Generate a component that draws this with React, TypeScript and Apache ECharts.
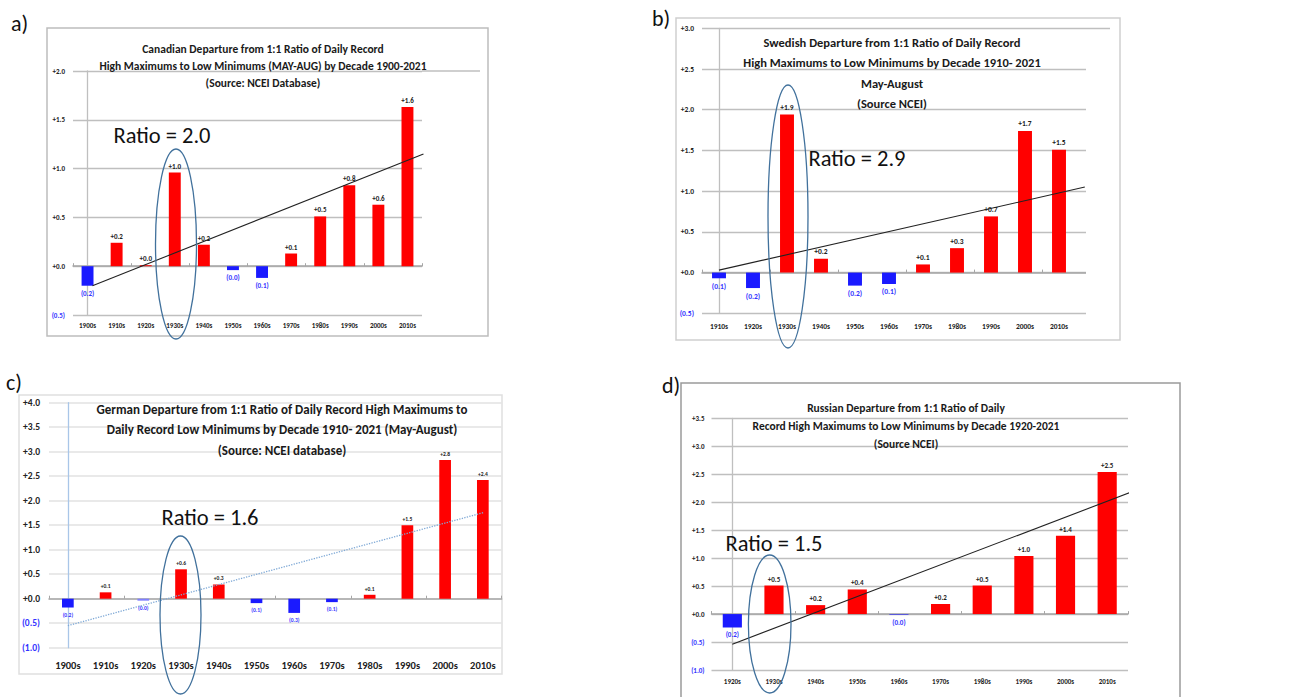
import React, { useEffect, useRef } from "react";
import * as echarts from "echarts";

const CATS_A = ["1900s", "1910s", "1920s", "1930s", "1940s", "1950s", "1960s", "1970s", "1980s", "1990s", "2000s", "2010s"];
const VALUES_A = [-0.2, 0.24, 0.01, 0.96, 0.22, -0.04, -0.12, 0.13, 0.51, 0.83, 0.63, 1.63];
const TREND_A = [[0.17, -0.2], [11.55, 1.15]];

const CATS_B = ["1910s", "1920s", "1930s", "1940s", "1950s", "1960s", "1970s", "1980s", "1990s", "2000s", "2010s", ""];
const VALUES_B = [-0.07, -0.19, 1.94, 0.17, -0.16, -0.14, 0.1, 0.3, 0.69, 1.74, 1.51, null];
const TREND_B = [[0, 0.03], [10.76, 1.05]];

const CATS_C = ["1900s", "1910s", "1920s", "1930s", "1940s", "1950s", "1960s", "1970s", "1980s", "1990s", "2000s", "2010s"];
const VALUES_C = [-0.18, 0.13, -0.04, 0.6, 0.29, -0.09, -0.29, -0.07, 0.08, 1.5, 2.83, 2.42];
const TREND_C = [[0, -0.55], [11.03, 1.76]];

const CATS_D = ["1920s", "1930s", "1940s", "1950s", "1960s", "1970s", "1980s", "1990s", "2000s", "2010s"];
const VALUES_D = [-0.24, 0.51, 0.16, 0.44, -0.01, 0.18, 0.51, 1.04, 1.4, 2.54];
const TREND_D = [[0, -0.54], [9.75, 2.23]];

const TITLE_A = "Canadian Departure from 1:1 Ratio of Daily Record\nHigh Maximums to Low Minimums (MAY-AUG) by Decade 1900-2021\n(Source: NCEI Database)";
const TITLE_B = "Swedish Departure from 1:1 Ratio of Daily Record\nHigh Maximums to Low Minimums by Decade 1910- 2021\nMay-August\n(Source NCEI)";
const TITLE_C = "German Departure from 1:1 Ratio of Daily Record High Maximums to\nDaily Record Low Minimums by Decade 1910- 2021 (May-August)\n(Source: NCEI database)";
const TITLE_D = "Russian Departure from 1:1 Ratio of Daily\nRecord High Maximums to Low Minimums by Decade 1920-2021\n(Source NCEI)";

const RATIOS = ["Ratio = 2.0", "Ratio = 2.9", "Ratio = 1.6", "Ratio = 1.5"];

const FONT = "Carlito, Lato, sans-serif";
const RED = "#ff0000";
const BLUE = "#1a1aff";
const LBLUE = "#3333ff";

const fmt = (v: number) => (v < 0 ? "(" + (-v).toFixed(1) + ")" : "+" + v.toFixed(1));

type Panel = {
  cats: string[];
  values: (number | null)[];
  trend: number[][];
  grid: { left: number; top: number; width: number; height: number };
  yMin: number;
  yMax: number;
  yFont: number;
  yMargin: number;
  xFont: number;
  xMargin: number;
  dataFont: number;
  barWidth: string;
  gridColor: string;
  gridWidth: number;
  yAxisColor: string;
  trendColor: string;
  trendType: string;
  trendWidth: number;
  negColors?: (string | null)[];
};

const PANELS: Panel[] = [
  {
    cats: CATS_A, values: VALUES_A, trend: TREND_A,
    grid: { left: 73, top: 71, width: 349, height: 244 },
    yMin: -0.5, yMax: 2.0, yFont: 7, yMargin: 8, xFont: 7, xMargin: 7, dataFont: 7, barWidth: "41%",
    gridColor: "#bfbfbf", gridWidth: 1.3, yAxisColor: "#bfbfbf", trendColor: "#222", trendType: "solid", trendWidth: 1.1,
  },
  {
    cats: CATS_B, values: VALUES_B, trend: TREND_B,
    grid: { left: 702, top: 28.3, width: 408, height: 285 },
    yMin: -0.5, yMax: 3.0, yFont: 7.5, yMargin: 8, xFont: 7.5, xMargin: 9, dataFont: 7.5, barWidth: "41%",
    gridColor: "#bfbfbf", gridWidth: 1.3, yAxisColor: "#bfbfbf", trendColor: "#222", trendType: "solid", trendWidth: 1.1,
  },
  {
    cats: CATS_C, values: VALUES_C, trend: TREND_C,
    grid: { left: 49, top: 402.7, width: 452.7, height: 245 },
    yMin: -1.0, yMax: 4.0, yFont: 9.5, yMargin: 9, xFont: 10.5, xMargin: 12, dataFont: 5.5, barWidth: "31%",
    gridColor: "#e2e2e2", gridWidth: 1.6, yAxisColor: "#a9c6e8", trendColor: "#7fa9d6", trendType: "dotted", trendWidth: 1.3,
    negColors: [null, null, "#8080ff", null, null, null, null, null, null, null, null, null],
  },
  {
    cats: CATS_D, values: VALUES_D, trend: TREND_D,
    grid: { left: 711.5, top: 418.3, width: 416.5, height: 251.7 },
    yMin: -1.0, yMax: 3.5, yFont: 7, yMargin: 7, xFont: 7, xMargin: 8, dataFont: 7, barWidth: "46%",
    gridColor: "#bfbfbf", gridWidth: 1.3, yAxisColor: "#bfbfbf", trendColor: "#222", trendType: "solid", trendWidth: 1.1,
  },
];

function buildOption() {
  const grid: any[] = [];
  const xAxis: any[] = [];
  const yAxis: any[] = [];
  const series: any[] = [];
  PANELS.forEach((p, i) => {
    grid.push({ ...p.grid, containLabel: false });
    xAxis.push({
      type: "category", gridIndex: i, data: p.cats,
      axisLine: { show: false, onZero: false },
      axisTick: { show: false },
      axisLabel: { fontSize: p.xFont, fontWeight: "bold", color: "#222", margin: p.xMargin, fontFamily: FONT, interval: 0 },
      splitLine: { show: false },
    });
    xAxis.push({
      type: "category", gridIndex: i, data: p.cats,
      axisLine: { show: true, onZero: true, lineStyle: { color: "#a6a6a6", width: 1.5 } },
      axisTick: { show: true, length: 3, lineStyle: { color: "#a6a6a6" } },
      axisLabel: { show: false },
      splitLine: { show: false },
    });
    xAxis.push({
      type: "value", gridIndex: i, min: -0.5, max: p.cats.length - 0.5, show: false,
      splitLine: { show: false },
    });
    yAxis.push({
      type: "value", gridIndex: i, min: p.yMin, max: p.yMax, interval: 0.5,
      axisLine: { show: true, lineStyle: { color: p.yAxisColor, width: 1.3 } },
      axisTick: { show: false },
      splitLine: { show: true, lineStyle: { color: p.gridColor, width: p.gridWidth } },
      axisLabel: {
        fontSize: p.yFont, fontWeight: "bold", margin: p.yMargin, fontFamily: FONT,
        formatter: (v: number) => fmt(v),
        color: (v: any) => (Number(v) < 0 ? LBLUE : "#222"),
      },
    });
    series.push({
      type: "bar", xAxisIndex: 3 * i, yAxisIndex: i, barWidth: p.barWidth,
      data: p.values.map((v, k) => {
        if (v === null) return null;
        const neg = v < 0;
        const c = neg ? (p.negColors && p.negColors[k]) || BLUE : RED;
        return {
          value: v,
          itemStyle: { color: c },
          label: {
            show: true,
            position: neg ? "bottom" : "top",
            distance: neg ? 4 : 3,
            formatter: fmt(v),
            color: neg ? LBLUE : "#222",
            fontSize: p.dataFont,
            fontWeight: "bold",
            fontFamily: FONT,
          },
        };
      }),
    });
    series.push({
      type: "line", xAxisIndex: 3 * i + 2, yAxisIndex: i, data: p.trend,
      symbol: "none", clip: false, silent: true,
      lineStyle: { color: p.trendColor, width: p.trendWidth, type: p.trendType },
    });
  });

  const title = (text: string, x: number, y: number, size: number, lh: number) => ({
    type: "text", x, y, z: 100,
    style: { text, fontSize: size, fontWeight: "bold", fontFamily: FONT, fill: "#1a1a1a", align: "center", verticalAlign: "middle", lineHeight: lh },
  });
  const ratio = (text: string, x: number, y: number) => ({
    type: "text", x, y, z: 100,
    style: { text, fontSize: 22.5, fontFamily: FONT, fill: "#111", align: "center", verticalAlign: "middle" },
  });
  const ell = (cx: number, cy: number, rx: number, ry: number) => ({
    type: "ellipse", z: 100, shape: { cx, cy, rx, ry },
    style: { fill: "none", stroke: "#41719c", lineWidth: 1.3 },
  });
  const box = (x: number, y: number, w: number, h: number, c: string) => ({
    type: "rect", z: -1, shape: { x, y, width: w, height: h },
    style: { fill: "#fff", stroke: c, lineWidth: 1.5 },
  });
  const tag = (text: string, x: number, y: number) => ({
    type: "text", x, y, z: 100,
    style: { text, fontSize: 22, fontFamily: FONT, fill: "#111", align: "left", verticalAlign: "middle" },
  });

  const graphic: any[] = [
    box(47, 28, 441, 308, "#bdbdbd"),
    box(676, 18, 444, 322, "#cfcfcf"),
    box(19, 395, 483, 279, "#e0e0e0"),
    box(681, 383, 499, 320, "#9a9a9a"),
    { type: "rect", z: 50, shape: { x: 1086, y: 31, width: 26, height: 302 }, style: { fill: "#fff" } },
    { type: "line", z: 1, shape: { x1: 422, y1: 71, x2: 480, y2: 71 }, style: { stroke: "#bfbfbf", lineWidth: 1.3 } },
    tag("a)", 11, 23),
    tag("b)", 652, 18),
    tag("c)", 6, 382),
    tag("d)", 662, 385),
    title(TITLE_A, 263, 66, 11.5, 17),
    title(TITLE_B, 892, 73, 12.5, 20.5),
    title(TITLE_C, 282, 429.5, 13, 20.5),
    title(TITLE_D, 906, 426, 11.5, 18),
    ratio(RATIOS[0], 162, 135),
    ratio(RATIOS[1], 857, 158),
    ratio(RATIOS[2], 210, 517),
    ratio(RATIOS[3], 774, 543),
    ell(176, 244, 20.5, 95),
    ell(788, 216.5, 20, 131.5),
    ell(180.5, 615, 20.5, 79),
    ell(769.7, 624, 21.3, 69),
  ];

  return { animation: false, backgroundColor: "#fff", grid, xAxis, yAxis, series, graphic };
}

export default function App() {
  const ref = useRef<HTMLDivElement>(null);
  useEffect(() => {
    if (!ref.current) return;
    const chart = echarts.init(ref.current, undefined, { renderer: "svg" });
    chart.setOption(buildOption() as any);
    return () => chart.dispose();
  }, []);
  return <div ref={ref} style={{ position: "fixed", left: 0, top: 0, width: 1293, height: 697 }} />;
}
